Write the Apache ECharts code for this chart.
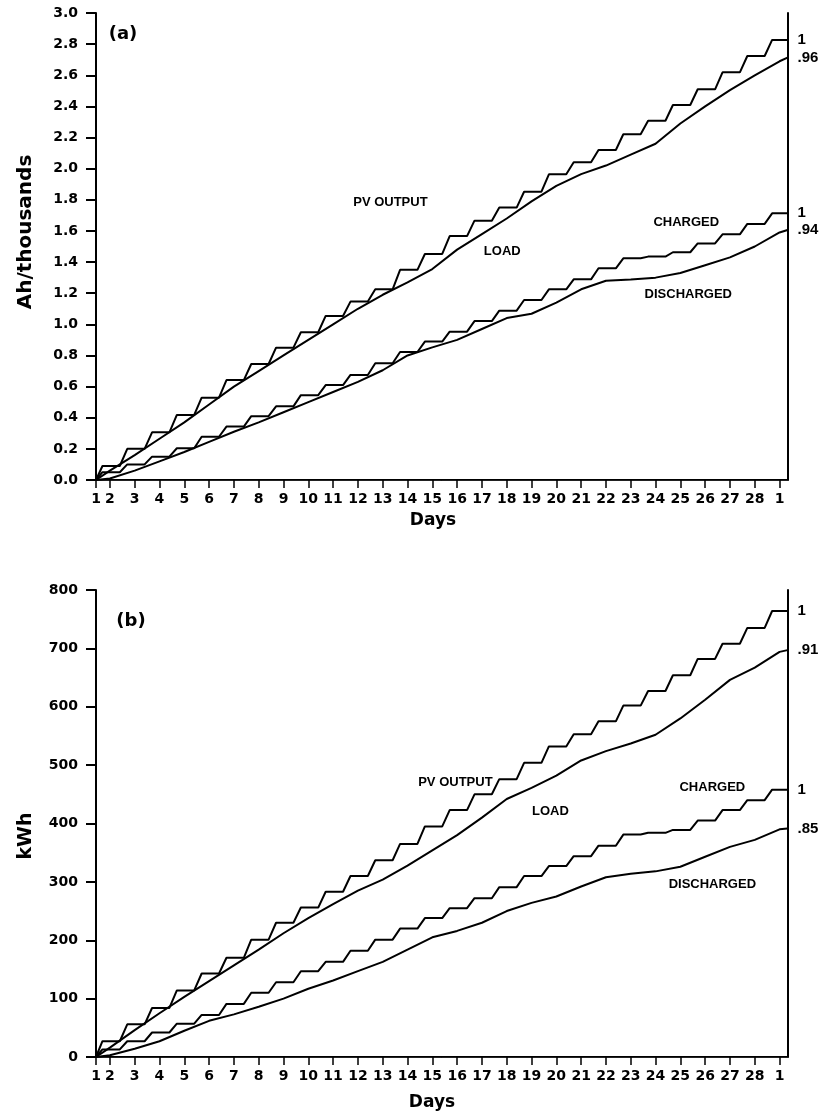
<!DOCTYPE html>
<html>
<head>
<meta charset="utf-8">
<script src="https://cdn.jsdelivr.net/npm/echarts@6/dist/echarts.min.js"></script>
<style>
html,body{margin:0;padding:0;background:#fff;}
#chart{width:824px;height:1117px;}
</style>
</head>
<body>
<div id="chart"></div>
<script>
// ---------- DATA ----------
// x axis in days; ticks at day boundaries, first tick is the start of the record
const tickValues = [1.44, 2, 3, 4, 5, 6, 7, 8, 9, 10, 11, 12, 13, 14, 15, 16, 17, 18, 19, 20, 21, 22, 23, 24, 25, 26, 27, 28, 29];
const tickLabels = ['1','2','3','4','5','6','7','8','9','10','11','12','13','14','15','16','17','18','19','20','21','22','23','24','25','26','27','28','1'];

// (a) Ah/thousands — stepped curves: plateau value reached on days 1..28
const pvA      = [0.09, 0.2, 0.306, 0.418, 0.529, 0.642, 0.745, 0.85, 0.949, 1.054, 1.146, 1.225, 1.35, 1.452, 1.567, 1.666, 1.75, 1.852, 1.964, 2.041, 2.12, 2.221, 2.308, 2.409, 2.51, 2.619, 2.724, 2.827];
const chargedA = [0.05, 0.1, 0.15, 0.204, 0.278, 0.343, 0.41, 0.473, 0.545, 0.61, 0.675, 0.75, 0.822, 0.889, 0.953, 1.021, 1.088, 1.156, 1.225, 1.289, 1.36, 1.424, 1.435, 1.463, 1.52, 1.578, 1.645, 1.713];
// (a) smoother curves: value at the start of days 2..29, then value at the end of the record
const loadA       = [0.06, 0.16, 0.265, 0.37, 0.485, 0.60, 0.70, 0.80, 0.90, 1.0, 1.10, 1.19, 1.27, 1.355, 1.48, 1.58, 1.68, 1.79, 1.89, 1.965, 2.02, 2.09, 2.16, 2.29, 2.40, 2.505, 2.60, 2.69];
const loadAEnd    = 2.713;
const dischargedA = [0.01, 0.06, 0.12, 0.18, 0.245, 0.31, 0.37, 0.435, 0.5, 0.565, 0.63, 0.705, 0.80, 0.852, 0.90, 0.97, 1.04, 1.068, 1.14, 1.225, 1.28, 1.288, 1.30, 1.33, 1.38, 1.43, 1.50, 1.59];
const dischargedAEnd = 1.606;
const endLabelsA = ['1', '.96', '1', '.94'];

// (b) kWh
const pvB      = [27, 56, 84, 114, 143, 170, 201, 230, 256, 283, 310, 337, 365, 395, 423, 450, 476, 504, 532, 553, 575, 602, 627, 654, 682, 708, 735, 764];
const chargedB = [13, 27, 42, 57, 72, 91, 110, 128, 147, 163, 182, 201, 220, 238, 255, 272, 291, 310, 327, 344, 362, 381, 384, 389, 405, 423, 440, 458];
const loadB       = [16, 46, 75, 103, 130, 157, 184, 212, 238, 262, 285, 304, 328, 354, 380, 410, 442, 461, 482, 508, 524, 537, 552, 580, 612, 646, 667, 694];
const loadBEnd    = 697;
const dischargedB = [3, 14, 27, 45, 62, 73, 86, 100, 117, 131, 147, 163, 184, 205, 216, 230, 250, 264, 275, 292, 308, 314, 318, 326, 343, 360, 372, 390];
const dischargedBEnd = 391.6;
const endLabelsB = ['1', '.91', '1', '.85'];

const curveNames = ['PV OUTPUT', 'LOAD', 'CHARGED', 'DISCHARGED'];

// ---------- LAYOUT / STYLE ----------
const X_MIN = 1.44, X_MAX = 29.32;
const RAMP_START = 0.4, RAMP_END = 0.7;   // daylight part of each day
const FONT = 'DejaVu Sans';
const LBL_FONT = 'Liberation Sans';

function stepped(vals) {
  const pts = [[X_MIN, 0], [1 + RAMP_END, vals[0]]];
  for (let i = 1; i < vals.length; i++) {
    const d = i + 1;
    pts.push([d + RAMP_START, vals[i - 1]]);
    pts.push([d + RAMP_END, vals[i]]);
  }
  pts.push([X_MAX, vals[vals.length - 1]]);
  return pts;
}
function daily(vals, endVal) {
  const pts = [[X_MIN, 0]];
  vals.forEach((v, i) => pts.push([i + 2, v]));
  pts.push([X_MAX, endVal]);
  return pts;
}

function lineSeries(idx, data, label) {
  return {
    type: 'line', xAxisIndex: idx, yAxisIndex: idx * 2, data: data,
    showSymbol: false, symbol: 'none', smooth: false, silent: true,
    lineStyle: { color: '#000', width: 2 },
    endLabel: {
      show: true, formatter: label, distance: 10, color: '#000',
      fontFamily: LBL_FONT, fontWeight: 'bold', fontSize: 15, align: 'left'
    }
  };
}
function annot(idx, pts) {
  return {
    type: 'scatter', xAxisIndex: idx, yAxisIndex: idx * 2, symbolSize: 0, silent: true,
    itemStyle: { opacity: 1, color: '#000' },
    data: pts.map((p, i) => ({ name: curveNames[i], value: p })),
    label: {
      show: true, position: 'inside', formatter: '{b}', color: '#000', opacity: 1,
      fontFamily: LBL_FONT, fontWeight: 'bold', fontSize: 13
    }
  };
}

const grids = [
  { left: 96, top: 13, width: 691.5, height: 467 },
  { left: 96, top: 590, width: 691.5, height: 467 }
];

function xAxisFor(idx) {
  return {
    type: 'value', gridIndex: idx, min: X_MIN, max: X_MAX,
    splitLine: { show: false },
    axisLine: { show: true, lineStyle: { color: '#000', width: 2 } },
    axisTick: { show: true, customValues: tickValues, length: 8, lineStyle: { color: '#000', width: 1.5 } },
    axisLabel: {
      show: true, customValues: tickValues, margin: 12, color: '#000',
      fontFamily: FONT, fontWeight: 'bold', fontSize: 14,
      formatter: v => { const k = tickValues.findIndex(t => Math.abs(t - v) < 1e-6); return k >= 0 ? tickLabels[k] : ''; }
    }
  };
}
function topBorder(idx) {
  return {
    type: 'value', gridIndex: idx, position: 'top', min: X_MIN, max: X_MAX,
    axisLine: { show: true, lineStyle: { color: '#222', width: 1 } },
    axisTick: { show: false }, axisLabel: { show: false }, splitLine: { show: false }
  };
}
function yAxisFor(idx, max, interval, fmt) {
  return {
    type: 'value', gridIndex: idx, min: 0, max: max, interval: interval,
    splitLine: { show: false },
    axisLine: { show: true, lineStyle: { color: '#000', width: 2 } },
    axisTick: { show: true, length: 10, lineStyle: { color: '#000', width: 2 } },
    axisLabel: { margin: 18, color: '#000', fontFamily: FONT, fontWeight: 'bold', fontSize: 14, formatter: fmt }
  };
}
function rightBorder(idx, max) {
  return {
    type: 'value', gridIndex: idx, position: 'right', min: 0, max: max,
    axisLine: { show: true, lineStyle: { color: '#000', width: 2 } },
    axisTick: { show: false }, axisLabel: { show: false }, splitLine: { show: false }
  };
}

const titleStyle = { fill: '#000', fontFamily: FONT, fontWeight: 'bold' };

const option = {
  animation: false,
  backgroundColor: '#fff',
  grid: grids,
  xAxis: [xAxisFor(0), xAxisFor(1), topBorder(0), topBorder(1)],
  yAxis: [
    yAxisFor(0, 3, 0.2, v => v.toFixed(1)), rightBorder(0, 3),
    yAxisFor(1, 800, 100, v => String(v)), rightBorder(1, 800)
  ],
  series: [
    lineSeries(0, stepped(pvA), endLabelsA[0]),
    lineSeries(0, daily(loadA, loadAEnd), endLabelsA[1]),
    lineSeries(0, stepped(chargedA), endLabelsA[2]),
    lineSeries(0, daily(dischargedA, dischargedAEnd), endLabelsA[3]),
    annot(0, [[13.31, 1.78], [17.82, 1.47], [25.24, 1.657], [25.32, 1.195]]),
    lineSeries(1, stepped(pvB), endLabelsB[0]),
    lineSeries(1, daily(loadB, loadBEnd), endLabelsB[1]),
    lineSeries(1, stepped(chargedB), endLabelsB[2]),
    lineSeries(1, daily(dischargedB, dischargedBEnd), endLabelsB[3]),
    annot(1, [[15.93, 471], [19.76, 420], [26.29, 462], [26.29, 295]])
  ],
  graphic: [
    { type: 'text', x: 26, y: 232, rotation: Math.PI / 2, style: Object.assign({ text: 'Ah/thousands', fontSize: 20, align: 'center', verticalAlign: 'middle' }, titleStyle) },
    { type: 'text', x: 26, y: 836, rotation: Math.PI / 2, style: Object.assign({ text: 'kWh', fontSize: 19, align: 'center', verticalAlign: 'middle' }, titleStyle) },
    { type: 'text', x: 433, y: 521, style: Object.assign({ text: 'Days', fontSize: 17, align: 'center', verticalAlign: 'middle' }, titleStyle) },
    { type: 'text', x: 432, y: 1103, style: Object.assign({ text: 'Days', fontSize: 17, align: 'center', verticalAlign: 'middle' }, titleStyle) },
    { type: 'text', x: 123, y: 34, style: Object.assign({ text: '(a)', fontSize: 18, align: 'center', verticalAlign: 'middle' }, titleStyle) },
    { type: 'text', x: 131, y: 621, style: Object.assign({ text: '(b)', fontSize: 18, align: 'center', verticalAlign: 'middle' }, titleStyle) }
  ]
};

const chart = echarts.init(document.getElementById('chart'), null, { renderer: 'canvas' });
chart.setOption(option);
</script>
</body>
</html>
